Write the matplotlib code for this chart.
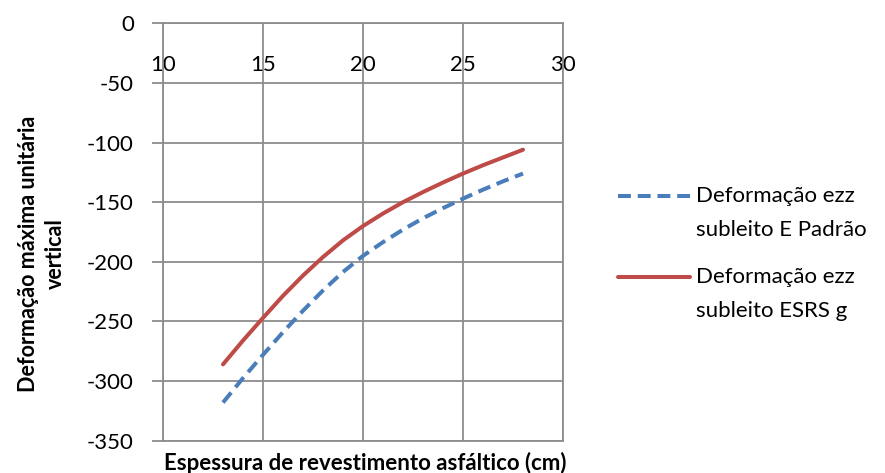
import matplotlib
matplotlib.use("Agg")
import matplotlib.pyplot as plt
from matplotlib.lines import Line2D

plt.rcParams['font.family'] = ['Lato', 'DejaVu Sans']

# valores
espessura = [13, 14, 15, 16, 17, 18, 19, 20, 21, 22, 23, 24, 25, 26, 27, 28]
def_padrao = [-318, -297.5, -278, -259, -241, -224, -208.5, -195, -183.5, -173, -163.5, -155, -147, -139.5, -132.5, -126]
def_esrs = [-286, -266, -247, -228.5, -211.5, -196, -182, -170, -159.5, -150, -141.5, -133.5, -126, -119, -112.5, -106]

x_ticks = [10, 15, 20, 25, 30]
y_ticks = [0, -50, -100, -150, -200, -250, -300, -350]
nome_padrao = ["Deformação ezz", "subleito E Padrão"]
nome_esrs = ["Deformação ezz", "subleito ESRS g"]

cor_azul = '#4A7EBB'
cor_verm = '#BE4B48'
cor_grade = '#8C8C8C'

fig = plt.figure(figsize=(8.85, 4.73), dpi=100)
ax = fig.add_axes([163/885, 1 - 440.7/473, 400/885, 417.4/473])

ax.plot(espessura, def_padrao, color=cor_azul, lw=2.9, dashes=(3.2, 1.7),
        dash_capstyle='butt')
ax.plot(espessura, def_esrs, color=cor_verm, lw=2.9, solid_capstyle='round')

ax.set_xlim(10, 30)
ax.set_ylim(-350, 0)
ax.set_xticks(x_ticks)
ax.set_yticks(y_ticks)
ax.set_yticklabels([str(v) for v in y_ticks])
ax.grid(True, color=cor_grade, lw=1.3)
ax.set_axisbelow(True)

for s in ax.spines.values():
    s.set_color(cor_grade)
    s.set_linewidth(1.3)

ax.tick_params(axis='y', direction='out', length=8, width=1.3, color=cor_grade,
               pad=13, labelsize=16)
ax.tick_params(axis='x', top=True, labeltop=True, bottom=False, labelbottom=False,
               length=0, pad=-37.5, labelsize=16)

fig.text(0.047, 0.463, "Deformação máxima unitária\nvertical", rotation=90,
         ha='center', va='center', ma='center', fontsize=15.5, fontweight='bold',
         linespacing=1.35)
fig.text(365/885, 1 - 463/473, "Espessura de revestimento asfáltico (cm)",
         ha='center', va='center', fontsize=16, fontweight='bold')

# legenda
for cor, nome, y0, tracejado in [(cor_azul, nome_padrao, 196, True),
                                  (cor_verm, nome_esrs, 277, False)]:
    ln = Line2D([618/885, 690/885], [1 - y0/473, 1 - y0/473], color=cor, lw=2.9,
                solid_capstyle='round', transform=fig.transFigure)
    if tracejado:
        ln.set_dashes((3.2, 1.7))
    fig.add_artist(ln)
    fig.text(696/885, 1 - y0/473, nome[0], ha='left', va='center', fontsize=16)
    fig.text(696/885, 1 - (y0 + 34)/473, nome[1], ha='left', va='center', fontsize=16)

fig.savefig('out.png', dpi=100)
